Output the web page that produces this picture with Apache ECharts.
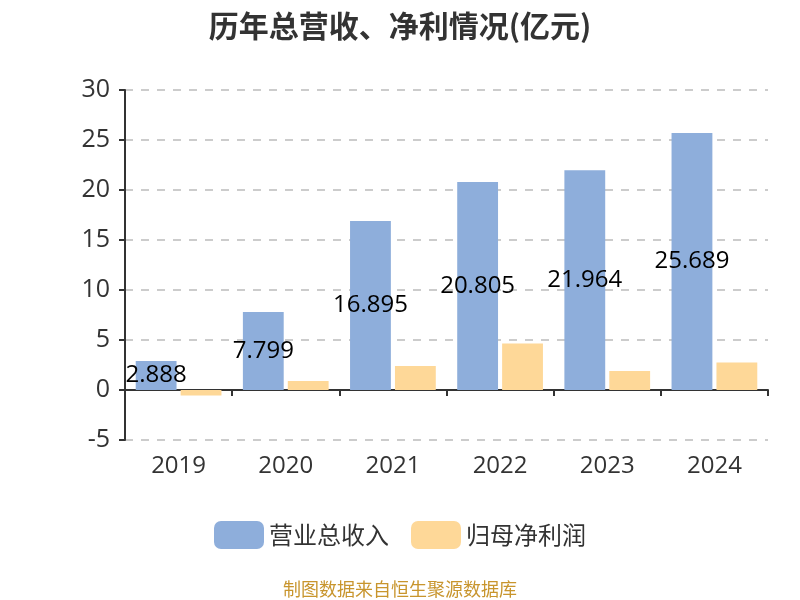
<!DOCTYPE html>
<html><head><meta charset="utf-8">
<script src="https://cdn.jsdelivr.net/npm/echarts@6/dist/echarts.min.js"></script>
<style>html,body{margin:0;padding:0;background:#fff}#c{width:800px;height:600px}</style>
</head><body><div id="c"></div>
<script>
var categories = ['2019','2020','2021','2022','2023','2024'];
var revenue = [2.888, 7.799, 16.895, 20.805, 21.964, 25.689];
var netProfit = [-0.55, 0.9, 2.4, 4.65, 1.9, 2.75];
var seriesNames = ['营业总收入','归母净利润'];
var yTicks = {min:-5, max:30, interval:5};

var chart = echarts.init(document.getElementById('c'), null, {renderer:'canvas'});
chart.setOption({
  animation:false,
  backgroundColor:'#fff',
  title:{text:'历年总营收、净利情况(亿元)', left:'center', top:6,
    textStyle:{fontSize:30, fontWeight:'bold', color:'#333', fontFamily:'Noto Sans CJK SC'}},
  legend:{bottom:46, left:'center', itemWidth:50, itemHeight:28, itemGap:22, icon:'roundRect',
    textStyle:{fontSize:24, color:'#333', fontFamily:'Noto Sans CJK SC'}, data:seriesNames},
  graphic:[{type:'text', left:'center', top:580,
    style:{text:'制图数据来自恒生聚源数据库', fill:'#c8952d', fontSize:18, fontFamily:'Noto Sans CJK SC'}}],
  grid:{left:125, right:32, top:90, bottom:160},
  xAxis:{type:'category', data:categories,
    axisLine:{onZero:true, lineStyle:{color:'#333', width:2}},
    axisTick:{show:true, length:6, lineStyle:{color:'#333', width:2}},
    axisLabel:{fontSize:24, color:'#333', margin:14, fontFamily:'Open Sans'}},
  yAxis:{type:'value', min:yTicks.min, max:yTicks.max, interval:yTicks.interval,
    axisLine:{show:true, lineStyle:{color:'#333', width:2}},
    axisTick:{show:true, length:6, lineStyle:{color:'#333', width:2}},
    axisLabel:{fontSize:25, color:'#333', margin:15, fontFamily:'Open Sans'},
    splitLine:{show:true, lineStyle:{color:'#ccc', type:[8,8], width:2}}},
  series:[
    {name:seriesNames[0], type:'bar', data:revenue, barGap:'10%', barCategoryGap:'20%',
      itemStyle:{color:'#8eaedb'},
      label:{show:true, position:'inside', color:'#000', fontSize:24, fontFamily:'Open Sans'}},
    {name:seriesNames[1], type:'bar', data:netProfit,
      itemStyle:{color:'#fed898'}}
  ]
});
</script></body></html>
